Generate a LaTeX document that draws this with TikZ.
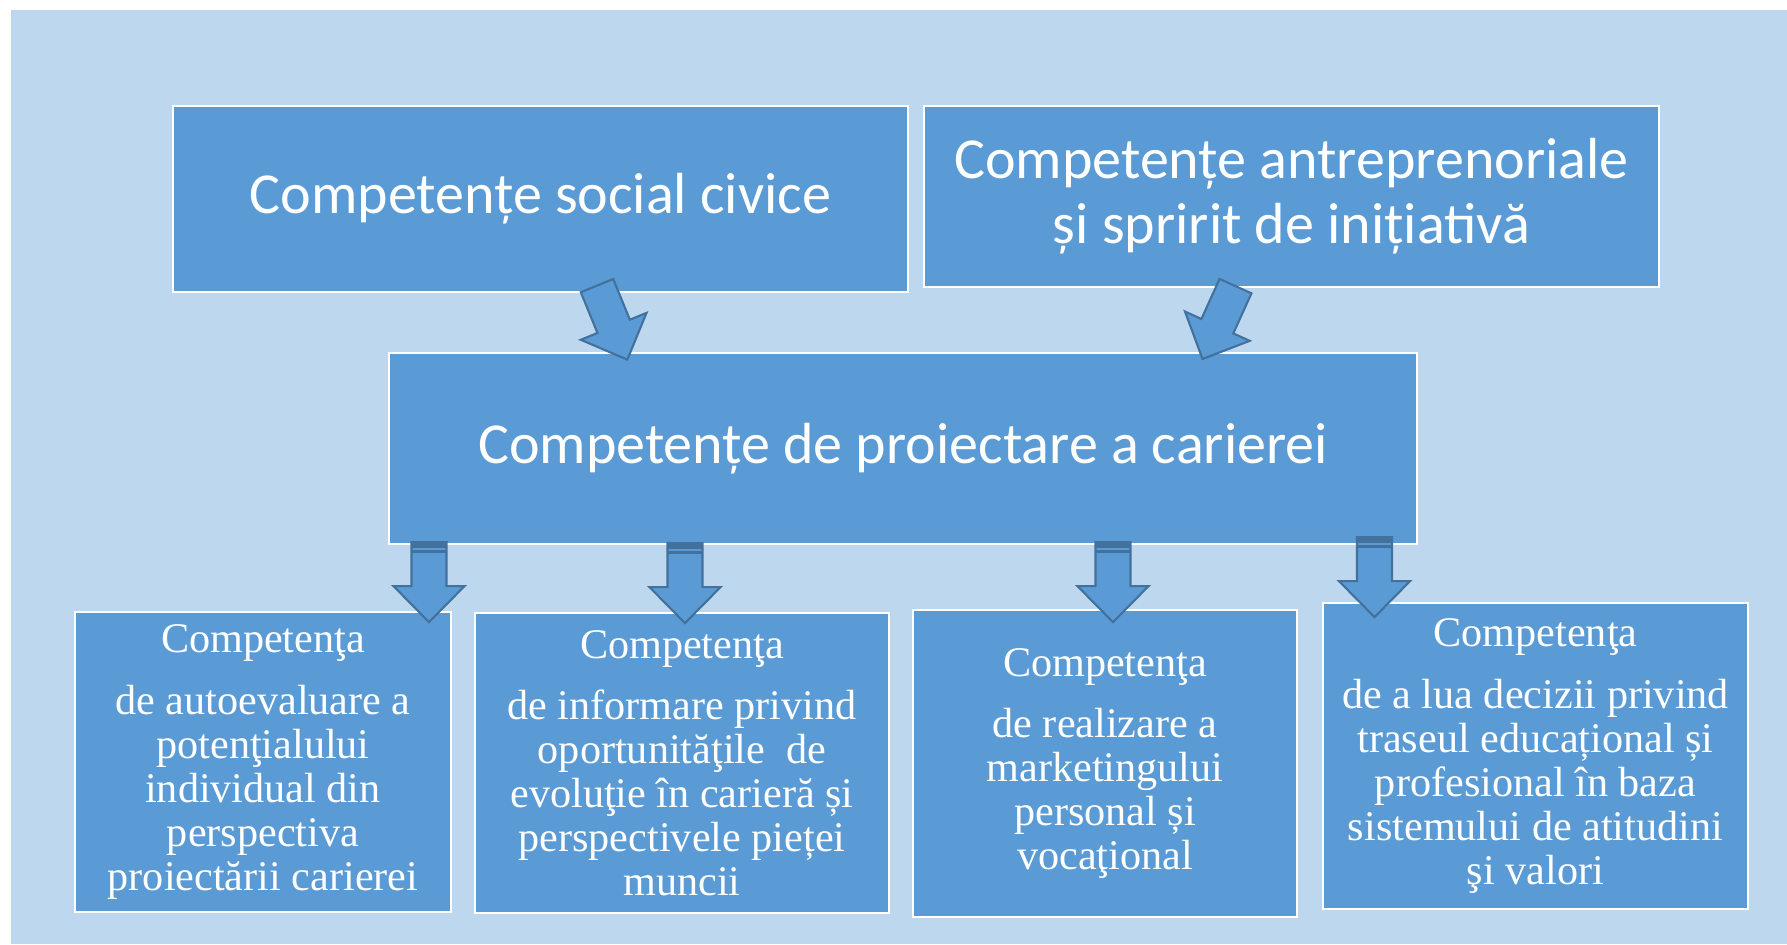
\documentclass[tikz,border=0pt]{standalone}
\usepackage{fontspec}
\setmainfont{Liberation Serif}
\newfontfamily\calibrifont{Carlito}
\usetikzlibrary{calc}
\definecolor{bgblue}{HTML}{BDD7EE}
\definecolor{boxblue}{HTML}{5B9BD5}
\definecolor{edgeblue}{HTML}{41719C}
\tikzset{
  topbox/.style={draw=white, line width=0.6pt, fill=boxblue, text=white, align=center,
    inner sep=0pt, font=\calibrifont\fontsize{16.5}{18.5}\selectfont},
  lowbox/.style={draw=white, line width=0.6pt, fill=boxblue, text=white, align=center,
    inner sep=0pt, font=\fontsize{12}{12.5}\selectfont},
  arrowfill/.style={fill=boxblue, draw=edgeblue, line width=0.6pt, line join=miter},
  pics/blockarr/.style={code={
    \draw[arrowfill] (0,-17.5) -- (44,-17.5) -- (44,-35.5) -- (80,0) -- (44,35.5) -- (44,17.5) -- (0,17.5) -- cycle;
  }},
  pics/bandarr/.style={code={
    \draw[arrowfill] (0,-17.5) -- (44,-17.5) -- (44,-35.5) -- (80,0) -- (44,35.5) -- (44,17.5) -- (0,17.5) -- cycle;
    \fill[edgeblue] (0,-17.5) rectangle (6,17.5);
    \draw[edgeblue, line width=0.8pt] (9.5,-17.5) -- (9.5,17.5);
  }}
}
\newcommand{\blockarrow}[3]{%
  \path let \p1=($(#3)-(#2)$), \n1={atan2(\y1,\x1)} in pic[rotate=\n1] at (#2) {#1};
}

\begin{document}
\begin{tikzpicture}[x=0.01cm, y=-0.01cm]
\fill[white] (0,0) rectangle (1787,944);
\useasboundingbox (0,0) rectangle (1787,944);
\fill[bgblue] (11,10) rectangle (1787,944);

\node[topbox, minimum width=7.35cm, minimum height=1.86cm] (social) at (540.5,199) {Competențe social civice};
\node[topbox, minimum width=7.35cm, minimum height=1.81cm] (antrep) at (1291.5,196.5) {Competențe antreprenoriale\\și spririt de inițiativă};
\node[topbox, minimum width=10.28cm, minimum height=1.91cm] (proiect) at (903,448.5) {Competențe de proiectare a carierei};

\node[lowbox, minimum width=3.76cm, minimum height=3.00cm] (autoev) at (263,762) {Competenţa\\[5pt]de autoevaluare a\\potenţialului\\individual din\\perspectiva\\proiectării carierei};
\node[lowbox, minimum width=4.14cm, minimum height=3.00cm] (inform) at (682,763) {Competenţa\\[5pt]de informare privind\\oportunităţile~ de\\evoluţie în carieră și\\perspectivele pieței\\muncii};
\node[lowbox, minimum width=3.84cm, minimum height=3.07cm] (market) at (1105,763.5) {Competenţa\\[5pt]de realizare a\\marketingului\\personal și\\vocaţional};
\node[lowbox, minimum width=4.25cm, minimum height=3.06cm] (decizii) at (1535.5,756) {Competenţa\\[5pt]de a lua decizii privind\\traseul educațional și\\profesional în baza\\sistemului de atitudini\\şi valori};

\coordinate (a1s) at ($(social.south)+(56.5,-7.5)$);
\coordinate (a1e) at ($(proiect.north)+(-276,7)$);
\coordinate (a2s) at ($(antrep.south)+(-56,-2)$);
\coordinate (a2e) at ($(proiect.north)+(300,6)$);
\coordinate (b1s) at ($(proiect.south)+(-474,-3)$);
\coordinate (b2s) at ($(proiect.south)+(-218,-2)$);
\coordinate (b3s) at ($(proiect.south)+(210,-3)$);
\coordinate (b4s) at ($(proiect.south)+(471.5,-8)$);

\blockarrow{blockarr}{a1s}{a1e}
\blockarrow{blockarr}{a2s}{a2e}
\blockarrow{bandarr}{b1s}{b1s |- autoev.north}
\blockarrow{bandarr}{b2s}{b2s |- inform.north}
\blockarrow{bandarr}{b3s}{b3s |- market.north}
\blockarrow{bandarr}{b4s}{b4s |- decizii.north}
\end{tikzpicture}
\end{document}
